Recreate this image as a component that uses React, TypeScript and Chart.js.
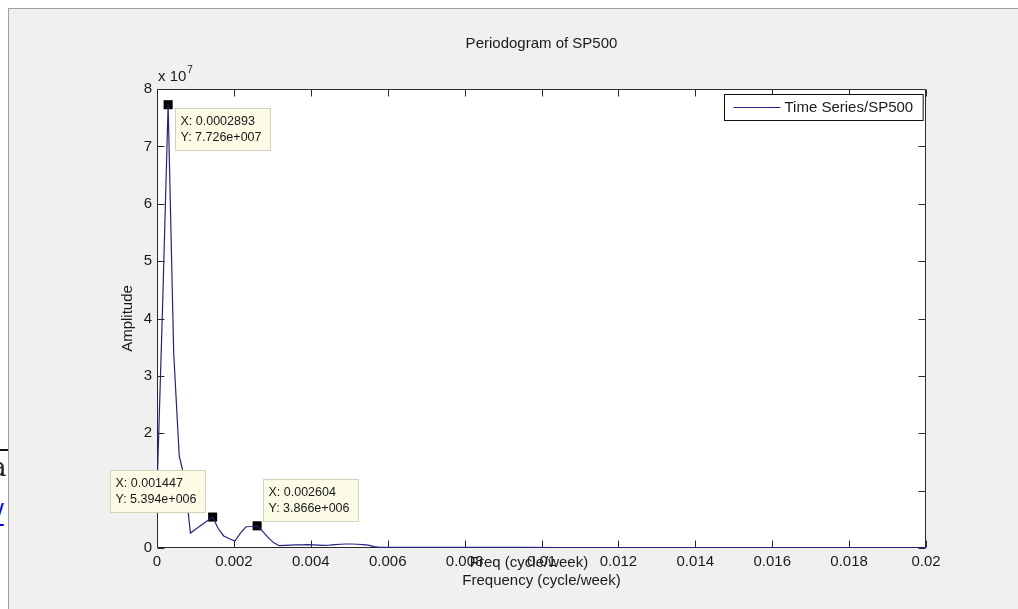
import React, { useEffect, useRef } from "react";
import { Chart, registerables } from "chart.js";

Chart.register(...registerables);

// ---------- data ----------
const freq = [
  0, 0.0001447, 0.0002893, 0.000434, 0.0005787, 0.0007233, 0.000868, 0.0010127,
  0.0011573, 0.001302, 0.001447, 0.0015913, 0.001736, 0.0018807, 0.0020253,
  0.00217, 0.0023147, 0.0024593, 0.002604, 0.0027487, 0.0028933, 0.003038,
  0.0031827, 0.0033273, 0.003472, 0.0036167, 0.0037613, 0.003906, 0.0040507,
  0.0041953, 0.00434, 0.0044847, 0.0046293, 0.004774, 0.0049187, 0.0050633,
  0.005208, 0.0053527, 0.0054973, 0.005642, 0.0057867, 0.0065, 0.0075, 0.0085,
  0.0095, 0.0105, 0.0115, 0.0125, 0.0135, 0.0145, 0.0155, 0.0165, 0.0175,
  0.0185, 0.0195, 0.02,
];
const amplitude = [
  1.0e7, 4.2e7, 7.726e7, 3.4e7, 1.6e7, 1.2e7, 2.6e6, 3.3e6, 4.0e6, 4.7e6,
  5.394e6, 3.4e6, 2.1e6, 1.6e6, 1.2e6, 2.6e6, 3.7e6, 3.75e6, 3.866e6, 2.9e6,
  1.8e6, 9.0e5, 4.0e5, 4.5e5, 5.0e5, 5.5e5, 5.5e5, 6.0e5, 5.5e5, 5.0e5, 4.5e5,
  5.0e5, 6.0e5, 6.5e5, 7.0e5, 7.0e5, 6.5e5, 6.0e5, 5.0e5, 2.5e5, 1.0e5,
  1.2e5, 1.1e5, 1.0e5, 1.0e5, 0.9e5, 0.9e5, 0.8e5, 0.8e5, 0.8e5, 0.7e5, 0.7e5,
  0.7e5, 0.6e5, 0.6e5, 0.6e5,
];
const tipFreq = [0.0002893, 0.001447, 0.002604];
const tipAmp = [7.726e7, 5.394e6, 3.866e6];
const xTickLabels = ["0", "0.002", "0.004", "0.006", "0.008", "0.01", "0.012", "0.014", "0.016", "0.018", "0.02"];
const yTickLabels = ["0", "1", "2", "3", "4", "5", "6", "7", "8"];
const seriesLabel = "Time Series/SP500";
const chartTitle = "Periodogram of SP500";
const xTitle = "Frequency (cycle/week)";
const xTitleGhost = "Freq (cycle/week)";
const yTitle = "Amplitude";
const exponentText = "x 10";
const exponentPower = "7";

// ---------- styles ----------
const FONT = '"Liberation Sans", Arial, Helvetica, sans-serif';
const TEXT = "#1a1a1a";
const AXIS = "#2a2a2a";
const LINE = "#24247e";
const TIP_PLACE = ["se", "nw", "ne"];

function fmtX(v: number) {
  return "X: " + v.toPrecision(4);
}
function fmtY(v: number) {
  const s = v.toExponential(3);
  const [m, e] = s.split("e");
  const sign = e[0] === "-" ? "-" : "+";
  const digits = e.replace(/^[+-]/, "").padStart(3, "0");
  return "Y: " + m + "e" + sign + digits;
}

const matlabPlugin = {
  id: "matlabLook",
  beforeDraw(chart: any) {
    const { ctx, chartArea: a } = chart;
    ctx.save();
    ctx.fillStyle = "#ffffff";
    ctx.fillRect(a.left, a.top, a.right - a.left, a.bottom - a.top);
    ctx.restore();
  },
  beforeDatasetsDraw(chart: any) {
    const { ctx, chartArea: a, scales } = chart;
    const L = Math.round(a.left) + 0.5;
    const R = Math.round(a.right) - 0.5;
    const T = Math.round(a.top) + 0.5;
    const B = Math.round(a.bottom) - 0.5;
    const tl = 7;
    ctx.save();
    ctx.strokeStyle = AXIS;
    ctx.lineWidth = 1;
    ctx.beginPath();
    ctx.rect(L, T, R - L, B - T);
    scales.x.ticks.forEach((t: any) => {
      const px = Math.round(scales.x.getPixelForValue(t.value)) + 0.5;
      ctx.moveTo(px, B);
      ctx.lineTo(px, B - tl);
      ctx.moveTo(px, T);
      ctx.lineTo(px, T + tl);
    });
    scales.y.ticks.forEach((t: any) => {
      const py = Math.round(scales.y.getPixelForValue(t.value)) + 0.5;
      ctx.moveTo(L, py);
      ctx.lineTo(L + tl, py);
      ctx.moveTo(R, py);
      ctx.lineTo(R - tl, py);
    });
    ctx.stroke();
    ctx.restore();
  },
  afterDatasetsDraw(chart: any) {
    const { ctx, chartArea: a, scales } = chart;
    ctx.save();
    // exponent label
    ctx.fillStyle = TEXT;
    ctx.textBaseline = "middle";
    ctx.textAlign = "left";
    ctx.font = `15px ${FONT}`;
    ctx.fillText(exponentText, a.left + 1, a.top - 12);
    const w = ctx.measureText(exponentText).width;
    ctx.font = `10px ${FONT}`;
    ctx.fillText(exponentPower, a.left + 2 + w, a.top - 19);

    // ghost x label
    ctx.font = `15px ${FONT}`;
    ctx.textAlign = "center";
    ctx.fillText(xTitleGhost, 529, a.bottom + 15);

    // legend
    const ds = chart.data.datasets[0];
    ctx.font = `15px ${FONT}`;
    const tw = ctx.measureText(ds.label).width;
    const bw = 9 + 47 + 4 + tw + 10;
    const bh = 26;
    const bx = Math.round(a.right - 3 - bw) + 0.5;
    const by = Math.round(a.top + 5) + 0.5;
    ctx.fillStyle = "#ffffff";
    ctx.fillRect(bx, by, bw, bh);
    ctx.strokeStyle = "#111";
    ctx.lineWidth = 1;
    ctx.strokeRect(bx, by, bw, bh);
    ctx.strokeStyle = ds.borderColor;
    ctx.lineWidth = 1.2;
    ctx.beginPath();
    ctx.moveTo(bx + 9, by + bh / 2);
    ctx.lineTo(bx + 56, by + bh / 2);
    ctx.stroke();
    ctx.fillStyle = TEXT;
    ctx.textAlign = "left";
    ctx.fillText(ds.label, bx + 60, by + bh / 2 + 0.5);

    // data tips
    const tbw = 95;
    const tbh = 42;
    ctx.font = `12.5px ${FONT}`;
    tipFreq.forEach((f, i) => {
      const px = scales.x.getPixelForValue(f);
      const py = scales.y.getPixelForValue(tipAmp[i]);
      let left = 0;
      let top = 0;
      const p = TIP_PLACE[i];
      if (p === "se") {
        left = px + 7;
        top = py + 3.5;
      } else if (p === "nw") {
        left = px - 8 - tbw;
        top = py - 5 - tbh;
      } else {
        left = px + 6;
        top = py - 5 - tbh;
      }
      left = Math.round(left) + 0.5;
      top = Math.round(top) + 0.5;
      ctx.fillStyle = "#fbfbe6";
      ctx.fillRect(left, top, tbw, tbh);
      ctx.strokeStyle = "#d2d2bc";
      ctx.lineWidth = 1;
      ctx.strokeRect(left, top, tbw, tbh);
      ctx.fillStyle = TEXT;
      ctx.textAlign = "left";
      ctx.textBaseline = "middle";
      ctx.fillText(fmtX(f), left + 5, top + 13);
      ctx.fillText(fmtY(tipAmp[i]), left + 5, top + 29);
    });
    ctx.restore();
  },
};

export default function App() {
  const ref = useRef<HTMLCanvasElement>(null);

  useEffect(() => {
    const canvas = ref.current;
    if (!canvas) return;
    const font15 = { family: FONT, size: 15, weight: "normal" as const };
    const chart = new Chart(canvas, {
      type: "line",
      data: {
        datasets: [
          {
            label: seriesLabel,
            data: freq.map((f, i) => ({ x: f, y: amplitude[i] })),
            borderColor: LINE,
            borderWidth: 1.2,
            pointRadius: 0,
            tension: 0,
            fill: false,
          },
          {
            label: "tips",
            data: tipFreq.map((f, i) => ({ x: f, y: tipAmp[i] })),
            showLine: false,
            pointStyle: "rect",
            pointRadius: 6.4,
            pointBackgroundColor: "#000",
            pointBorderColor: "#000",
            pointBorderWidth: 0,
            clip: false,
          } as any,
        ],
      },
      options: {
        responsive: false,
        animation: false,
        events: [],
        layout: { padding: { left: 110, top: 0, right: 92, bottom: 19 } },
        plugins: {
          legend: { display: false },
          tooltip: { enabled: false },
          title: {
            display: true,
            text: chartTitle,
            fullSize: false,
            color: TEXT,
            font: font15,
            padding: { top: 35, bottom: 36 },
          },
        },
        scales: {
          x: {
            type: "linear",
            min: 0,
            max: 0.02,
            grid: { display: false, drawTicks: false },
            border: { display: false },
            ticks: {
              stepSize: 0.002,
              autoSkip: false,
              maxRotation: 0,
              minRotation: 0,
              padding: 5,
              color: TEXT,
              font: font15,
              callback: (_v: any, i: number) => xTickLabels[i],
            },
            title: { display: true, text: xTitle, color: TEXT, font: font15, padding: 0 },
            afterFit: (s: any) => {
              s.height = 42;
              s.paddingLeft = 0;
              s.paddingRight = 0;
            },
          },
          y: {
            type: "linear",
            min: 0,
            max: 8e7,
            grid: { display: false, drawTicks: false },
            border: { display: false },
            ticks: {
              stepSize: 1e7,
              padding: 5,
              color: TEXT,
              font: font15,
              callback: (_v: any, i: number) => yTickLabels[i],
            },
            title: { display: true, text: yTitle, color: TEXT, font: font15, padding: { top: 9, bottom: 0 } },
            afterFit: (s: any) => {
              s.width = 47;
              s.paddingTop = 0;
              s.paddingBottom = 0;
            },
          },
        },
      } as any,
      plugins: [matlabPlugin],
    });
    return () => chart.destroy();
  }, []);

  return (
    <div style={{ position: "fixed", left: 0, top: 0, width: 1018, height: 609, background: "#fff", overflow: "hidden" }}>
      <div style={{ position: "absolute", left: 0, top: 449, width: 8, height: 2, background: "#111" }} />
      <span style={{ position: "absolute", left: -9, top: 452, fontFamily: '"DejaVu Serif", serif', fontSize: 26, color: "#222", lineHeight: "30px" }}>a</span>
      <span style={{ position: "absolute", left: -5, top: 497, fontFamily: '"DejaVu Serif", serif', fontSize: 26, color: "#0000ee", textDecoration: "underline", lineHeight: "32px" }}>/</span>
      <div
        style={{
          position: "absolute",
          left: 8,
          top: 8,
          right: 0,
          bottom: 0,
          background: "#f0f0f0",
          borderTop: "1px solid #a0a0a0",
          borderLeft: "1px solid #a0a0a0",
          zIndex: 1,
        }}
      />
      <canvas ref={ref} width={1018} height={609} style={{ position: "absolute", left: 0, top: 0, zIndex: 2 }} />
    </div>
  );
}
